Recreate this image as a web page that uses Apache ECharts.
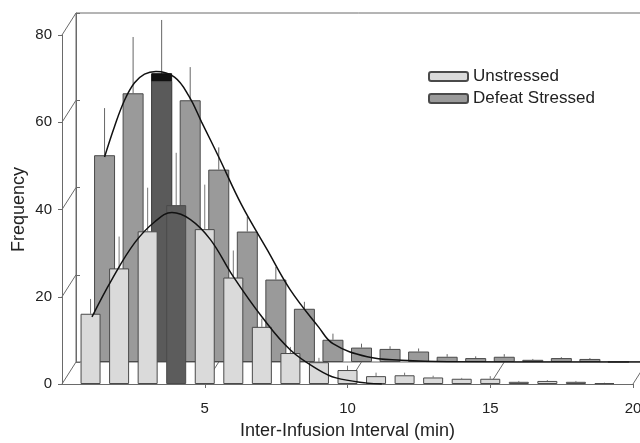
<!DOCTYPE html>
<html>
<head>
<meta charset="utf-8">
<script src="https://cdn.jsdelivr.net/npm/echarts@6/dist/echarts.min.js"></script>
<style>
  html, body { margin: 0; padding: 0; background: #fff; }
  #chart { width: 640px; height: 443px; }
</style>
</head>
<body>
<div id="chart"></div>
<script>
// bin centres (min)
const bins = [1, 2, 3, 4, 5, 6, 7, 8, 9, 10, 11, 12, 13, 14, 15, 16, 17, 18, 19];

// Unstressed (front row)
const unstressed    = [16.1, 26.5, 35.0, 41.0, 35.5, 24.4, 13.1, 7.1, 5.0, 3.2, 1.8, 2.0, 1.5, 1.2, 1.2, 0.5, 0.7, 0.5, 0.2];
const unstressedErr = [19.5, 33.8, 45.0, 53.0, 45.7, 30.6, 15.0, 8.5, 6.0, 4.2, 2.6, 2.6, 1.9, 1.4, 1.8, 0.7, 0.9, 0.7, 0.3];

// Defeat Stressed (back row)
const stressed    = [47.4, 61.6, 64.4, 60.0, 44.1, 29.9, 18.9, 12.2, 5.1, 3.3, 3.0, 2.4, 1.2, 0.9, 1.2, 0.5, 0.9, 0.7, 0];
const stressedErr = [58.2, 74.5, 78.4, 67.6, 49.2, 33.3, 21.8, 13.8, 6.5, 4.2, 3.6, 3.1, 1.8, 1.3, 1.8, 0.7, 1.1, 0.9, 0];
const stressedCap = [[3, 66.2]];

// fitted curves
const unstressedFit = [[1.05, 15.4], [1.75, 24], [2.55, 32.4], [3.25, 37.2], [3.85, 39.3], [4.5, 37.7], [5.2, 33.1],
  [6.0, 24.6], [7.0, 15.4], [8.0, 7.8], [9.0, 3.2], [9.6, 1.4], [10.7, 0.2], [11.2, 0]];
const stressedFit = [[1.0, 47], [1.35, 54], [1.7, 60], [2.05, 64], [2.4, 66], [2.8, 66.6], [3.45, 65.3], [3.95, 61],
  [4.4, 55], [5.0, 47], [5.8, 36], [6.7, 25.7], [7.5, 16.6], [8.5, 8], [9.0, 4.2], [10.2, 1.2], [11.4, 0.4], [13, 0.05], [20.5, 0]];

const yTicks = [0, 20, 40, 60, 80];
const xTicks = [0, 5, 10, 15, 20];
const peakUnstressed = 4;
const peakStressed = 3;

// depth offset of the back row (px)
const DX = 14, DY = -22;

const chart = echarts.init(document.getElementById('chart'));
const font = 'Liberation Sans, Arial, sans-serif';
const axisGray = '#6a6a6a';

const errRender = (color) => (params, api) => {
  const x = api.value(0);
  const p0 = api.coord([x, api.value(1)]);
  const p1 = api.coord([x, api.value(2)]);
  return { type: 'line', shape: { x1: p0[0], y1: p0[1], x2: p1[0], y2: p1[1] }, style: { stroke: color, lineWidth: 1 } };
};

const frameData = yTicks.map(v => [0, v]).concat(xTicks.slice(1).map(v => [v, 0]));

const option = {
  backgroundColor: '#ffffff',
  animation: false,
  textStyle: { fontFamily: font },
  legend: {
    data: ['Unstressed', 'Defeat Stressed'],
    orient: 'vertical',
    left: 423,
    top: 63,
    itemWidth: 39,
    itemHeight: 9,
    itemGap: 5,
    textStyle: { fontSize: 17, color: '#222', fontFamily: font }
  },
  grid: [
    { left: 62, top: 35, width: 571, height: 349, show: false, outerBoundsMode: 'none', containLabel: false },
    { left: 62 + DX, top: 35 + DY, width: 571, height: 349, show: true, borderColor: axisGray, borderWidth: 1,
      backgroundColor: 'transparent', outerBoundsMode: 'none', containLabel: false }
  ],
  xAxis: [
    {
      gridIndex: 0, type: 'value', min: 0, max: 20, interval: 5,
      name: 'Inter-Infusion Interval (min)', nameLocation: 'middle', nameGap: 38,
      nameTextStyle: { fontSize: 18, color: '#222', fontFamily: font },
      axisLine: { show: true, lineStyle: { color: axisGray } },
      axisTick: { show: true, length: 4, lineStyle: { color: axisGray } },
      axisLabel: { fontSize: 15, color: '#222', margin: 17, showMinLabel: false },
      splitLine: { show: false }
    },
    {
      gridIndex: 1, type: 'value', min: 0, max: 20, interval: 5,
      axisLine: { show: false }, axisTick: { show: false }, axisLabel: { show: false }, splitLine: { show: false }
    }
  ],
  yAxis: [
    {
      gridIndex: 0, type: 'value', min: 0, max: 80, interval: 20,
      name: 'Frequency', nameLocation: 'middle', nameGap: 34, nameMoveOverlap: false,
      nameTextStyle: { fontSize: 18, color: '#222', fontFamily: font },
      axisLine: { show: true, lineStyle: { color: axisGray } },
      axisTick: { show: true, length: 4, lineStyle: { color: axisGray } },
      axisLabel: { fontSize: 15, color: '#222', margin: 10 },
      splitLine: { show: false }
    },
    {
      gridIndex: 1, type: 'value', min: 0, max: 80, interval: 20,
      axisLine: { show: true, lineStyle: { color: axisGray } },
      axisTick: { show: true, inside: true, length: 4, lineStyle: { color: axisGray } },
      axisLabel: { show: false }, splitLine: { show: false }
    }
  ],
  series: [
    {
      name: 'frame', type: 'custom', xAxisIndex: 0, yAxisIndex: 0, z: 1, silent: true,
      data: frameData,
      renderItem: (params, api) => {
        const p = api.coord([api.value(0), api.value(1)]);
        return { type: 'line', shape: { x1: p[0], y1: p[1], x2: p[0] + DX, y2: p[1] + DY }, style: { stroke: axisGray, lineWidth: 1 } };
      }
    },
    {
      name: 'stressedErr', type: 'custom', xAxisIndex: 1, yAxisIndex: 1, z: 1.5, silent: true,
      data: bins.map((b, i) => [b, stressed[i], stressedErr[i]]),
      renderItem: errRender('#666')
    },
    {
      name: 'cap', type: 'bar', xAxisIndex: 1, yAxisIndex: 1, z: 2,
      barWidth: 21, barGap: '-100%',
      itemStyle: { color: '#111', borderColor: '#111', borderWidth: 1 },
      data: stressedCap
    },
    {
      name: 'Defeat Stressed', type: 'bar', xAxisIndex: 1, yAxisIndex: 1, z: 3,
      barWidth: 21, barGap: '-100%',
      itemStyle: { color: '#9a9a9a', borderColor: '#4a4a4a', borderWidth: 1 },
      data: bins.map((b, i) => b === peakStressed
        ? { value: [b, stressed[i]], itemStyle: { color: '#5a5a5a' } }
        : [b, stressed[i]])
    },
    {
      name: 'stressedFit', type: 'line', xAxisIndex: 1, yAxisIndex: 1, z: 4,
      smooth: 0.4, showSymbol: false, silent: true,
      lineStyle: { color: '#111', width: 1.5 },
      data: stressedFit
    },
    {
      name: 'unstressedErr', type: 'custom', xAxisIndex: 0, yAxisIndex: 0, z: 4.5, silent: true,
      data: bins.map((b, i) => [b, unstressed[i], unstressedErr[i]]),
      renderItem: errRender('#777')
    },
    {
      name: 'Unstressed', type: 'bar', xAxisIndex: 0, yAxisIndex: 0, z: 5,
      barWidth: 20,
      itemStyle: { color: '#dadada', borderColor: '#4a4a4a', borderWidth: 1 },
      data: bins.map((b, i) => b === peakUnstressed
        ? { value: [b, unstressed[i]], itemStyle: { color: '#5c5c5c' } }
        : [b, unstressed[i]])
    },
    {
      name: 'unstressedFit', type: 'line', xAxisIndex: 0, yAxisIndex: 0, z: 6,
      smooth: 0.4, showSymbol: false, silent: true,
      lineStyle: { color: '#111', width: 1.5 },
      data: unstressedFit
    }
  ]
};

chart.setOption(option);
</script>
</body>
</html>
